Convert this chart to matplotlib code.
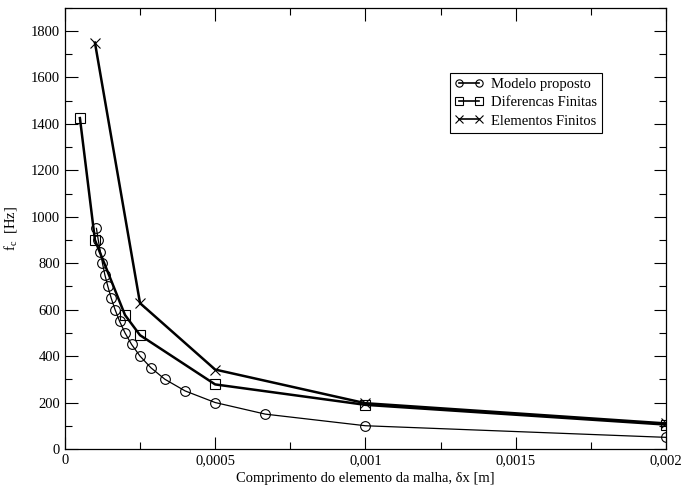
import matplotlib
matplotlib.use("Agg")
import matplotlib.pyplot as plt
from matplotlib.ticker import MultipleLocator, FuncFormatter

plt.rcParams['font.family'] = ['Liberation Serif', 'DejaVu Serif']
plt.rcParams['mathtext.fontset'] = 'custom'
plt.rcParams['mathtext.rm'] = 'Liberation Serif'

# Modelo proposto
dx_modelo = [0.002, 0.001, 0.000667, 0.0005, 0.0004, 0.000333, 0.000286, 0.00025,
             0.000222, 0.0002, 0.000182, 0.000167, 0.000154, 0.000143, 0.000133,
             0.000125, 0.000118, 0.000111, 0.000105]
f_modelo = [50, 100, 150, 200, 250, 300, 350, 400, 450, 500, 550, 600, 650,
            700, 750, 800, 850, 900, 950]

# Diferencas Finitas
dx_df = [0.00005, 0.0001, 0.0002, 0.00025, 0.0005, 0.001, 0.002]
f_df = [1425, 900, 577, 490, 278, 190, 105]

# Elementos Finitos
dx_ef = [0.0001, 0.00025, 0.0005, 0.001, 0.002]
f_ef = [1750, 628, 342, 197, 110]

fig = plt.figure(figsize=(6.83, 4.88), dpi=100)
ax = fig.add_axes([0.095, 0.080, 0.880, 0.904])

ax.plot(dx_modelo, f_modelo, color='black', lw=0.9, marker='o', ms=7,
        mfc='none', mew=0.8, label='Modelo proposto')
ax.plot(dx_df, f_df, color='black', lw=1.8, marker='s', ms=7,
        mfc='none', mew=0.8, label='Diferencas Finitas')
ax.plot(dx_ef, f_ef, color='black', lw=1.8, marker='x', ms=7,
        mew=0.8, label='Elementos Finitos')

ax.set_xlim(0, 0.002)
ax.set_ylim(0, 1900)
ax.xaxis.set_major_locator(MultipleLocator(0.0005))
ax.xaxis.set_minor_locator(MultipleLocator(0.00025))
ax.yaxis.set_major_locator(MultipleLocator(200))
ax.yaxis.set_minor_locator(MultipleLocator(100))
ax.xaxis.set_major_formatter(FuncFormatter(lambda v, p: '0' if v == 0 else ('%g' % v).replace('.', ',')))
ax.tick_params(which='both', direction='in', top=True, right=True, labelsize=10.5)
ax.tick_params(which='major', length=9, width=0.8)
ax.tick_params(which='minor', length=5, width=0.8)
for s in ax.spines.values():
    s.set_linewidth(0.9)

ax.set_xlabel('Comprimento do elemento da malha, δx [m]', fontsize=10.5, labelpad=4)
ax.set_ylabel(r'f$_\mathregular{c}$  [Hz]', fontsize=10.5, labelpad=8)

leg = ax.legend(loc='upper left', bbox_to_anchor=(0.64, 0.853), fontsize=10.5,
                frameon=True, fancybox=False, edgecolor='black', framealpha=1,
                numpoints=2, markerscale=0.75,
                handlelength=2.0, handletextpad=0.5, borderpad=0.35, labelspacing=0.35,
                borderaxespad=0)
leg.get_frame().set_linewidth(0.8)
for ln in leg.get_lines():
    ln.set_linewidth(1.2)

fig.savefig('out.png', dpi=100)
